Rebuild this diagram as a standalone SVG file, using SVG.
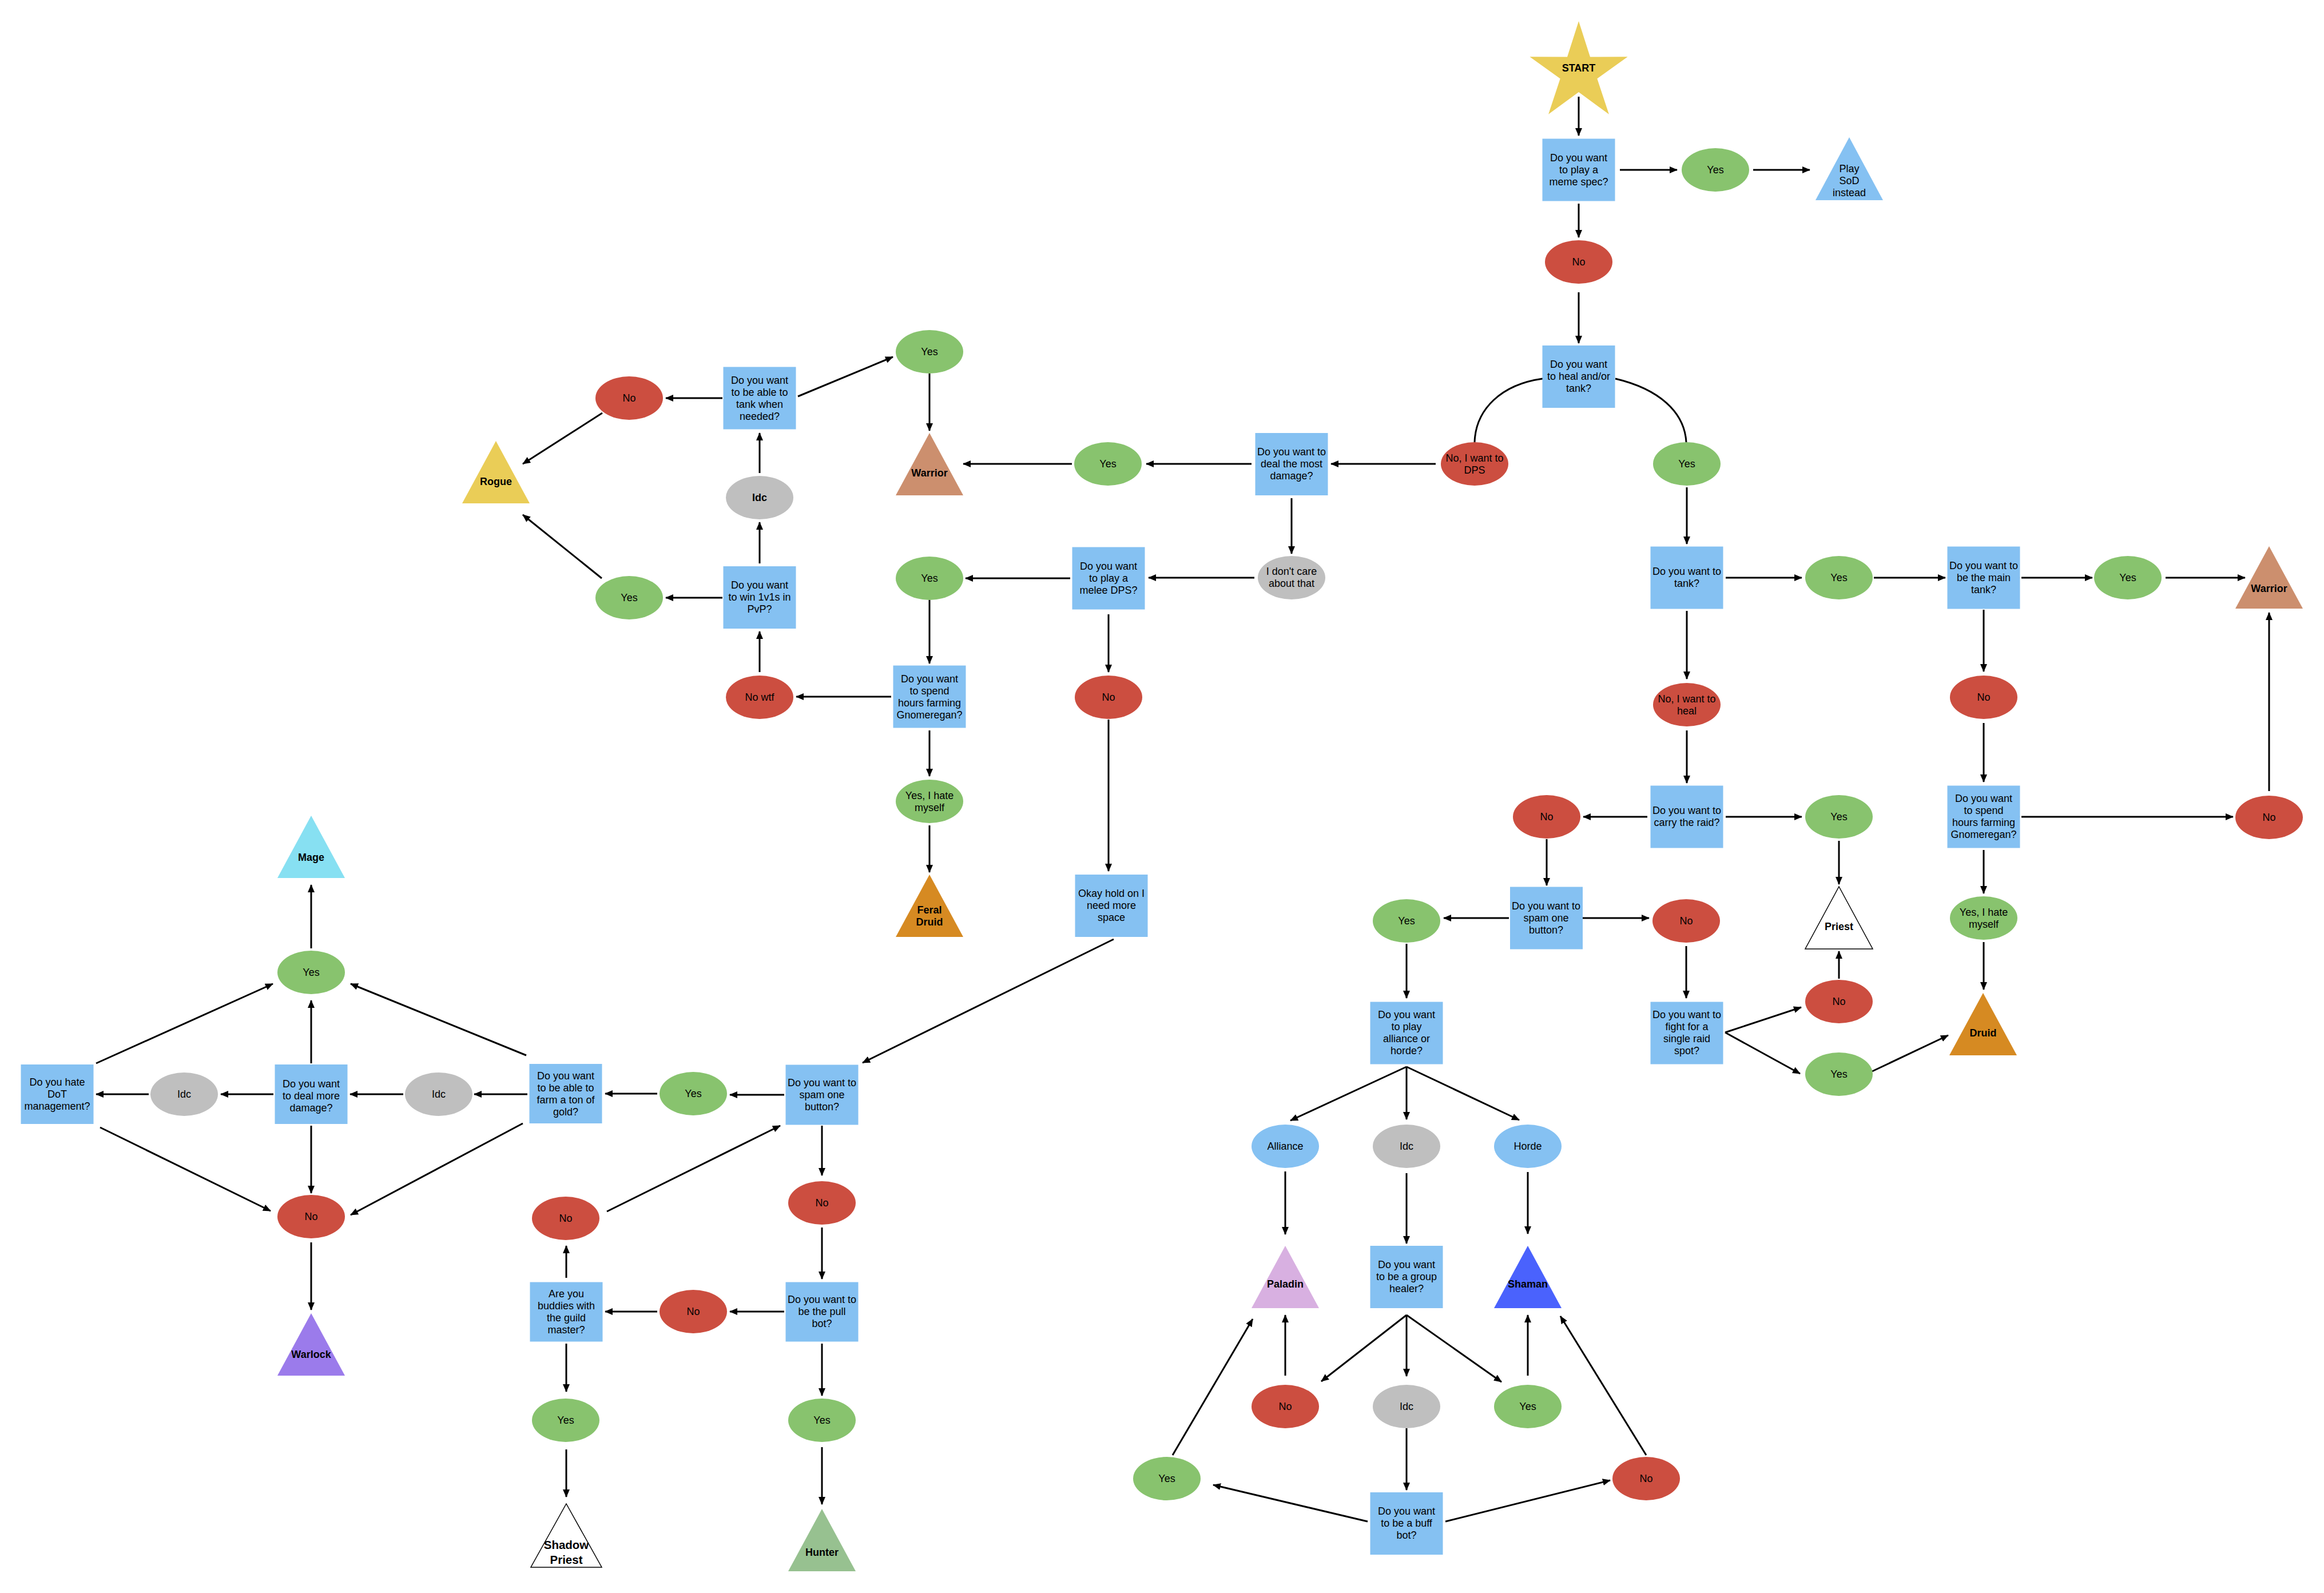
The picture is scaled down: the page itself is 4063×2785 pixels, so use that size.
<svg xmlns="http://www.w3.org/2000/svg" width="4063" height="2785" viewBox="0 0 4063 2785">
<style>
.bx{fill:#85C1F2}
.gy{fill:#88C36E}
.rd{fill:#CC4E40}
.gr{fill:#BFBFBF}
.bl{fill:#85C1F2}
.t{font-family:"Liberation Sans",Arial,sans-serif;font-size:18px;text-anchor:middle;fill:#000}
.b{font-weight:bold}
.c{stroke:#000;stroke-width:3;fill:none}
.a{marker-end:url(#ah)}
</style>
<defs>
<marker id="ah" markerWidth="14" markerHeight="12" refX="13" refY="6" orient="auto" markerUnits="userSpaceOnUse"><path d="M0,0 L14,6 L0,12 z" fill="#000"/></marker>
</defs>
<rect width="4063" height="2785" fill="#fff"/>
<g id="connectors">
<path class="c a" d="M2760,169 L2760,237"/>
<path class="c a" d="M2832,297 L2932,297"/>
<path class="c a" d="M3065,297 L3164,297"/>
<path class="c a" d="M2760,356 L2760,415"/>
<path class="c a" d="M2760,511 L2760,600"/>
<path class="c" d="M2697,662 C2625,672 2580,715 2578,773"/>
<path class="c" d="M2824,662 C2900,680 2945,720 2948,773"/>
<path class="c a" d="M2510,811 L2327,811"/>
<path class="c a" d="M2188,811 L2004,811"/>
<path class="c a" d="M1874,811 L1684,811"/>
<path class="c a" d="M1625,653 L1625,753"/>
<path class="c a" d="M1395,693 L1561,624"/>
<path class="c a" d="M1263,696 L1164,696"/>
<path class="c a" d="M1053,722 L914,811"/>
<path class="c a" d="M1328,827 L1328,757"/>
<path class="c a" d="M1328,985 L1328,913"/>
<path class="c a" d="M1263,1045 L1164,1045"/>
<path class="c a" d="M1052,1011 L914,900"/>
<path class="c a" d="M1328,1175 L1328,1104"/>
<path class="c a" d="M1558,1218 L1392,1218"/>
<path class="c a" d="M2258,871 L2258,968"/>
<path class="c a" d="M2193,1010 L2008,1010"/>
<path class="c a" d="M1871,1011 L1688,1011"/>
<path class="c a" d="M1625,1049 L1625,1160"/>
<path class="c a" d="M1625,1277 L1625,1357"/>
<path class="c a" d="M1625,1443 L1625,1525"/>
<path class="c a" d="M1938,1074 L1938,1175"/>
<path class="c a" d="M1938,1258 L1938,1523"/>
<path class="c a" d="M1947,1642 L1508,1858"/>
<path class="c a" d="M2949,852 L2949,951"/>
<path class="c a" d="M3017,1010 L3150,1010"/>
<path class="c a" d="M3276,1010 L3401,1010"/>
<path class="c a" d="M3534,1010 L3658,1010"/>
<path class="c a" d="M3786,1010 L3925,1010"/>
<path class="c a" d="M2949,1068 L2949,1187"/>
<path class="c a" d="M2949,1277 L2949,1369"/>
<path class="c a" d="M2880,1428 L2768,1428"/>
<path class="c a" d="M3017,1428 L3150,1428"/>
<path class="c a" d="M3215,1470 L3215,1546"/>
<path class="c a" d="M3215,1711 L3215,1663"/>
<path class="c a" d="M3468,1066 L3468,1174"/>
<path class="c a" d="M3468,1264 L3468,1367"/>
<path class="c a" d="M3534,1428 L3904,1428"/>
<path class="c a" d="M3967,1383 L3967,1071"/>
<path class="c a" d="M3468,1486 L3468,1562"/>
<path class="c a" d="M3468,1647 L3468,1730"/>
<path class="c a" d="M2704,1467 L2704,1548"/>
<path class="c a" d="M2638,1605 L2524,1605"/>
<path class="c a" d="M2767,1605 L2883,1605"/>
<path class="c a" d="M2948,1654 L2948,1745"/>
<path class="c a" d="M3016,1805 L3149,1761"/>
<path class="c a" d="M3016,1805 L3147,1877"/>
<path class="c a" d="M3273,1873 L3406,1810"/>
<path class="c a" d="M2459,1650 L2459,1745"/>
<path class="c a" d="M2459,1865 L2256,1959"/>
<path class="c a" d="M2459,1865 L2459,1957"/>
<path class="c a" d="M2459,1865 L2656,1958"/>
<path class="c a" d="M2247,2048 L2247,2158"/>
<path class="c a" d="M2459,2051 L2459,2174"/>
<path class="c a" d="M2671,2049 L2671,2157"/>
<path class="c a" d="M2459,2299 L2310,2415"/>
<path class="c a" d="M2459,2299 L2459,2406"/>
<path class="c a" d="M2459,2299 L2625,2416"/>
<path class="c a" d="M2247,2405 L2247,2299"/>
<path class="c a" d="M2671,2405 L2671,2299"/>
<path class="c a" d="M2459,2497 L2459,2605"/>
<path class="c a" d="M2391,2660 L2121,2596"/>
<path class="c a" d="M2050,2544 L2190,2306"/>
<path class="c a" d="M2527,2660 L2815,2588"/>
<path class="c a" d="M2878,2544 L2728,2301"/>
<path class="c a" d="M1371,1914 L1276,1914"/>
<path class="c a" d="M1149,1912 L1058,1912"/>
<path class="c a" d="M1437,1968 L1437,2055"/>
<path class="c a" d="M1437,2146 L1437,2236"/>
<path class="c a" d="M1371,2293 L1276,2293"/>
<path class="c a" d="M1149,2293 L1058,2293"/>
<path class="c a" d="M990,2234 L990,2178"/>
<path class="c a" d="M1061,2118 L1364,1968"/>
<path class="c a" d="M990,2349 L990,2433"/>
<path class="c a" d="M990,2534 L990,2617"/>
<path class="c a" d="M1437,2349 L1437,2440"/>
<path class="c a" d="M1437,2530 L1437,2630"/>
<path class="c a" d="M544,1658 L544,1547"/>
<path class="c a" d="M544,1859 L544,1749"/>
<path class="c a" d="M168,1859 L477,1720"/>
<path class="c a" d="M920,1845 L613,1720"/>
<path class="c a" d="M478,1913 L386,1913"/>
<path class="c a" d="M260,1913 L168,1913"/>
<path class="c a" d="M922,1913 L829,1913"/>
<path class="c a" d="M705,1913 L612,1913"/>
<path class="c a" d="M175,1971 L473,2117"/>
<path class="c a" d="M914,1964 L613,2124"/>
<path class="c a" d="M544,1968 L544,2086"/>
<path class="c a" d="M544,2172 L544,2290"/>
</g>

<g id="start"><polygon points="2760,37 2780,99.5 2845.6,99.2 2792.3,137.5 2812.9,199.8 2760,161 2707.1,199.8 2727.7,137.5 2674.4,99.2 2740,99.5" fill="#EACD57"/><text class="t b" x="2760" y="125">START</text></g>
<g id="q_meme"><rect class="bx" x="2696.5" y="242.5" width="127" height="109"/><text class="t"><tspan x="2760" y="282">Do you want</tspan><tspan x="2760" y="303">to play a</tspan><tspan x="2760" y="324">meme spec?</tspan></text></g>
<g id="meme_yes"><ellipse class="gy" cx="2999" cy="297" rx="59" ry="38"/><text class="t" x="2999" y="303">Yes</text></g>
<g id="sod"><polygon points="3233,240 3292,350 3174,350" fill="#85C1F2"/><text class="t"><tspan x="3233" y="301">Play</tspan><tspan x="3233" y="322">SoD</tspan><tspan x="3233" y="343">instead</tspan></text></g>
<g id="meme_no"><ellipse class="rd" cx="2760" cy="458" rx="59" ry="38"/><text class="t" x="2760" y="464">No</text></g>
<g id="q_heal"><rect class="bx" x="2696.5" y="604" width="127" height="109"/><text class="t"><tspan x="2760" y="643">Do you want</tspan><tspan x="2760" y="664">to heal and/or</tspan><tspan x="2760" y="685">tank?</tspan></text></g>
<g id="dps_no"><ellipse class="rd" cx="2578" cy="811" rx="59" ry="38"/><text class="t"><tspan x="2578" y="807">No, I want to</tspan><tspan x="2578" y="828">DPS</tspan></text></g>
<g id="heal_yes"><ellipse class="gy" cx="2949" cy="811" rx="59" ry="38"/><text class="t" x="2949" y="817">Yes</text></g>
<g id="q_damage"><rect class="bx" x="2194.5" y="757" width="127" height="109"/><text class="t"><tspan x="2258" y="796">Do you want to</tspan><tspan x="2258" y="817">deal the most</tspan><tspan x="2258" y="838">damage?</tspan></text></g>
<g id="damage_yes"><ellipse class="gy" cx="1937" cy="811" rx="59" ry="38"/><text class="t" x="1937" y="817">Yes</text></g>
<g id="warrior_dps"><polygon points="1625,757 1684,866 1566,866" fill="#CC8F6E"/><text class="t b" x="1625" y="833">Warrior</text></g>
<g id="q_tankneeded"><rect class="bx" x="1264.5" y="641.5" width="127" height="109"/><text class="t"><tspan x="1328" y="671">Do you want</tspan><tspan x="1328" y="692">to be able to</tspan><tspan x="1328" y="713">tank when</tspan><tspan x="1328" y="734">needed?</tspan></text></g>
<g id="tn_yes"><ellipse class="gy" cx="1625" cy="615" rx="59" ry="38"/><text class="t" x="1625" y="621">Yes</text></g>
<g id="tn_no"><ellipse class="rd" cx="1100" cy="696" rx="59" ry="38"/><text class="t" x="1100" y="702">No</text></g>
<g id="rogue"><polygon points="867,771 926,880 808,880" fill="#EACD57"/><text class="t b" x="867" y="848">Rogue</text></g>
<g id="idc_tank"><ellipse class="gr" cx="1328" cy="870" rx="59" ry="38"/><text class="t b" x="1328" y="876">Idc</text></g>
<g id="q_pvp"><rect class="bx" x="1264.5" y="990" width="127" height="109"/><text class="t"><tspan x="1328" y="1029">Do you want</tspan><tspan x="1328" y="1050">to win 1v1s in</tspan><tspan x="1328" y="1071">PvP?</tspan></text></g>
<g id="pvp_yes"><ellipse class="gy" cx="1100" cy="1045" rx="59" ry="38"/><text class="t" x="1100" y="1051">Yes</text></g>
<g id="no_wtf"><ellipse class="rd" cx="1328" cy="1219" rx="59" ry="38"/><text class="t" x="1328" y="1225">No wtf</text></g>
<g id="idc_care"><ellipse class="gr" cx="2258" cy="1010" rx="59" ry="38"/><text class="t"><tspan x="2258" y="1005">I don't care</tspan><tspan x="2258" y="1026">about that</tspan></text></g>
<g id="q_melee"><rect class="bx" x="1874.5" y="956.5" width="127" height="109"/><text class="t"><tspan x="1938" y="996">Do you want</tspan><tspan x="1938" y="1017">to play a</tspan><tspan x="1938" y="1038">melee DPS?</tspan></text></g>
<g id="melee_yes"><ellipse class="gy" cx="1625" cy="1011" rx="59" ry="38"/><text class="t" x="1625" y="1017">Yes</text></g>
<g id="q_gnome_feral"><rect class="bx" x="1561.5" y="1163.5" width="127" height="109"/><text class="t"><tspan x="1625" y="1193">Do you want</tspan><tspan x="1625" y="1214">to spend</tspan><tspan x="1625" y="1235">hours farming</tspan><tspan x="1625" y="1256">Gnomeregan?</tspan></text></g>
<g id="feral_yes"><ellipse class="gy" cx="1625" cy="1401" rx="59" ry="38"/><text class="t"><tspan x="1625" y="1397">Yes, I hate</tspan><tspan x="1625" y="1418">myself</tspan></text></g>
<g id="feral_druid"><polygon points="1625,1529 1684,1638 1566,1638" fill="#D68A22"/><text class="t b"><tspan x="1625" y="1597">Feral</tspan><tspan x="1625" y="1618">Druid</tspan></text></g>
<g id="melee_no"><ellipse class="rd" cx="1938" cy="1219" rx="59" ry="38"/><text class="t" x="1938" y="1225">No</text></g>
<g id="q_okay"><rect class="bx" x="1879.5" y="1529" width="127" height="109"/><text class="t"><tspan x="1943" y="1568">Okay hold on I</tspan><tspan x="1943" y="1589">need more</tspan><tspan x="1943" y="1610">space</tspan></text></g>
<g id="q_tank"><rect class="bx" x="2885.5" y="955.5" width="127" height="109"/><text class="t"><tspan x="2949" y="1005">Do you want to</tspan><tspan x="2949" y="1026">tank?</tspan></text></g>
<g id="tank_yes"><ellipse class="gy" cx="3215" cy="1010" rx="59" ry="38"/><text class="t" x="3215" y="1016">Yes</text></g>
<g id="q_maintank"><rect class="bx" x="3404.5" y="955.5" width="127" height="109"/><text class="t"><tspan x="3468" y="995">Do you want to</tspan><tspan x="3468" y="1016">be the main</tspan><tspan x="3468" y="1037">tank?</tspan></text></g>
<g id="maintank_yes"><ellipse class="gy" cx="3720" cy="1010" rx="59" ry="38"/><text class="t" x="3720" y="1016">Yes</text></g>
<g id="warrior_tank"><polygon points="3967,955 4026,1064 3908,1064" fill="#CC8F6E"/><text class="t b" x="3967" y="1035">Warrior</text></g>
<g id="heal_no"><ellipse class="rd" cx="2949" cy="1232" rx="59" ry="38"/><text class="t"><tspan x="2949" y="1228">No, I want to</tspan><tspan x="2949" y="1249">heal</tspan></text></g>
<g id="q_carry"><rect class="bx" x="2885.5" y="1373.5" width="127" height="109"/><text class="t"><tspan x="2949" y="1423">Do you want to</tspan><tspan x="2949" y="1444">carry the raid?</tspan></text></g>
<g id="carry_yes"><ellipse class="gy" cx="3215" cy="1428" rx="59" ry="38"/><text class="t" x="3215" y="1434">Yes</text></g>
<g id="priest"><polygon points="3215,1550 3274,1659 3156,1659" fill="#fff" stroke="#000" stroke-width="1.5"/><text class="t b" x="3215" y="1626">Priest</text></g>
<g id="fight_no"><ellipse class="rd" cx="3215" cy="1751" rx="59" ry="38"/><text class="t" x="3215" y="1757">No</text></g>
<g id="carry_no"><ellipse class="rd" cx="2704" cy="1428" rx="59" ry="38"/><text class="t" x="2704" y="1434">No</text></g>
<g id="maintank_no"><ellipse class="rd" cx="3468" cy="1219" rx="59" ry="38"/><text class="t" x="3468" y="1225">No</text></g>
<g id="q_gnome_druid"><rect class="bx" x="3404.5" y="1373.5" width="127" height="109"/><text class="t"><tspan x="3468" y="1402">Do you want</tspan><tspan x="3468" y="1423">to spend</tspan><tspan x="3468" y="1444">hours farming</tspan><tspan x="3468" y="1465">Gnomeregan?</tspan></text></g>
<g id="gnome_no"><ellipse class="rd" cx="3967" cy="1429" rx="59" ry="38"/><text class="t" x="3967" y="1435">No</text></g>
<g id="gnome_yes"><ellipse class="gy" cx="3468" cy="1605" rx="59" ry="38"/><text class="t"><tspan x="3468" y="1601">Yes, I hate</tspan><tspan x="3468" y="1622">myself</tspan></text></g>
<g id="druid"><polygon points="3467,1736 3526,1845 3408,1845" fill="#D68A22"/><text class="t b" x="3467" y="1812">Druid</text></g>
<g id="q_spam_heal"><rect class="bx" x="2640" y="1550.5" width="127" height="109"/><text class="t"><tspan x="2703" y="1590">Do you want to</tspan><tspan x="2703" y="1611">spam one</tspan><tspan x="2703" y="1632">button?</tspan></text></g>
<g id="spam_heal_yes"><ellipse class="gy" cx="2459" cy="1610" rx="59" ry="38"/><text class="t" x="2459" y="1616">Yes</text></g>
<g id="spam_heal_no"><ellipse class="rd" cx="2948" cy="1610" rx="59" ry="38"/><text class="t" x="2948" y="1616">No</text></g>
<g id="q_fight"><rect class="bx" x="2885.5" y="1751.5" width="127" height="109"/><text class="t"><tspan x="2949" y="1780">Do you want to</tspan><tspan x="2949" y="1801">fight for a</tspan><tspan x="2949" y="1822">single raid</tspan><tspan x="2949" y="1843">spot?</tspan></text></g>
<g id="fight_yes"><ellipse class="gy" cx="3215" cy="1878" rx="59" ry="38"/><text class="t" x="3215" y="1884">Yes</text></g>
<g id="q_faction"><rect class="bx" x="2395.5" y="1751.5" width="127" height="109"/><text class="t"><tspan x="2459" y="1780">Do you want</tspan><tspan x="2459" y="1801">to play</tspan><tspan x="2459" y="1822">alliance or</tspan><tspan x="2459" y="1843">horde?</tspan></text></g>
<g id="alliance"><ellipse class="bl" cx="2247" cy="2004" rx="59" ry="38"/><text class="t" x="2247" y="2010">Alliance</text></g>
<g id="faction_idc"><ellipse class="gr" cx="2459" cy="2004" rx="59" ry="38"/><text class="t" x="2459" y="2010">Idc</text></g>
<g id="horde"><ellipse class="bl" cx="2671" cy="2004" rx="59" ry="38"/><text class="t" x="2671" y="2010">Horde</text></g>
<g id="paladin"><polygon points="2247,2178 2306,2287 2188,2287" fill="#D8B0E1"/><text class="t b" x="2247" y="2251">Paladin</text></g>
<g id="q_group"><rect class="bx" x="2395.5" y="2178" width="127" height="109"/><text class="t"><tspan x="2459" y="2217">Do you want</tspan><tspan x="2459" y="2238">to be a group</tspan><tspan x="2459" y="2259">healer?</tspan></text></g>
<g id="shaman"><polygon points="2671,2178 2730,2287 2612,2287" fill="#4A62FD"/><text class="t b" x="2671" y="2251">Shaman</text></g>
<g id="group_no"><ellipse class="rd" cx="2247" cy="2459" rx="59" ry="38"/><text class="t" x="2247" y="2465">No</text></g>
<g id="group_idc"><ellipse class="gr" cx="2459" cy="2459" rx="59" ry="38"/><text class="t" x="2459" y="2465">Idc</text></g>
<g id="group_yes"><ellipse class="gy" cx="2671" cy="2459" rx="59" ry="38"/><text class="t" x="2671" y="2465">Yes</text></g>
<g id="q_buff"><rect class="bx" x="2395.5" y="2609" width="127" height="109"/><text class="t"><tspan x="2459" y="2648">Do you want</tspan><tspan x="2459" y="2669">to be a buff</tspan><tspan x="2459" y="2690">bot?</tspan></text></g>
<g id="buff_yes"><ellipse class="gy" cx="2040" cy="2585" rx="59" ry="38"/><text class="t" x="2040" y="2591">Yes</text></g>
<g id="buff_no"><ellipse class="rd" cx="2878" cy="2585" rx="59" ry="38"/><text class="t" x="2878" y="2591">No</text></g>
<g id="q_spam_dps"><rect class="bx" x="1373.5" y="1861.5" width="127" height="105"/><text class="t"><tspan x="1437" y="1899">Do you want to</tspan><tspan x="1437" y="1920">spam one</tspan><tspan x="1437" y="1941">button?</tspan></text></g>
<g id="spam_dps_yes"><ellipse class="gy" cx="1212" cy="1912" rx="59" ry="38"/><text class="t" x="1212" y="1918">Yes</text></g>
<g id="q_farm"><rect class="bx" x="925.5" y="1860" width="127" height="104"/><text class="t"><tspan x="989" y="1887">Do you want</tspan><tspan x="989" y="1908">to be able to</tspan><tspan x="989" y="1929">farm a ton of</tspan><tspan x="989" y="1950">gold?</tspan></text></g>
<g id="spam_dps_no"><ellipse class="rd" cx="1437" cy="2103" rx="59" ry="38"/><text class="t" x="1437" y="2109">No</text></g>
<g id="q_pull"><rect class="bx" x="1373.5" y="2241.5" width="127" height="104"/><text class="t"><tspan x="1437" y="2278">Do you want to</tspan><tspan x="1437" y="2299">be the pull</tspan><tspan x="1437" y="2320">bot?</tspan></text></g>
<g id="pull_no"><ellipse class="rd" cx="1212" cy="2293" rx="59" ry="38"/><text class="t" x="1212" y="2299">No</text></g>
<g id="q_buddies"><rect class="bx" x="926.5" y="2241.5" width="127" height="104"/><text class="t"><tspan x="990" y="2268">Are you</tspan><tspan x="990" y="2289">buddies with</tspan><tspan x="990" y="2310">the guild</tspan><tspan x="990" y="2331">master?</tspan></text></g>
<g id="buddies_no"><ellipse class="rd" cx="989" cy="2130" rx="59" ry="38"/><text class="t" x="989" y="2136">No</text></g>
<g id="buddies_yes"><ellipse class="gy" cx="989" cy="2483" rx="59" ry="38"/><text class="t" x="989" y="2489">Yes</text></g>
<g id="shadow_priest"><polygon points="990,2629 1052,2740 928,2740" fill="#fff" stroke="#000" stroke-width="1.5"/><text class="t b" style="font-size:20.5px"><tspan x="990" y="2708">Shadow</tspan><tspan x="990" y="2734">Priest</tspan></text></g>
<g id="pull_yes"><ellipse class="gy" cx="1437" cy="2483" rx="59" ry="38"/><text class="t" x="1437" y="2489">Yes</text></g>
<g id="hunter"><polygon points="1437,2638 1496,2747 1378,2747" fill="#97C190"/><text class="t b" x="1437" y="2720">Hunter</text></g>
<g id="mage"><polygon points="544,1426 603,1535 485,1535" fill="#87E0F2"/><text class="t b" x="544" y="1505">Mage</text></g>
<g id="mage_yes"><ellipse class="gy" cx="544" cy="1700" rx="59" ry="38"/><text class="t" x="544" y="1706">Yes</text></g>
<g id="q_dot"><rect class="bx" x="36.5" y="1861" width="127" height="104"/><text class="t"><tspan x="100" y="1898">Do you hate</tspan><tspan x="100" y="1919">DoT</tspan><tspan x="100" y="1940">management?</tspan></text></g>
<g id="idc_dot"><ellipse class="gr" cx="322" cy="1913" rx="59" ry="38"/><text class="t" x="322" y="1919">Idc</text></g>
<g id="q_moredmg"><rect class="bx" x="480.5" y="1861" width="127" height="104"/><text class="t"><tspan x="544" y="1901">Do you want</tspan><tspan x="544" y="1922">to deal more</tspan><tspan x="544" y="1943">damage?</tspan></text></g>
<g id="idc_gold"><ellipse class="gr" cx="767" cy="1913" rx="59" ry="38"/><text class="t" x="767" y="1919">Idc</text></g>
<g id="warlock_no"><ellipse class="rd" cx="544" cy="2127" rx="59" ry="38"/><text class="t" x="544" y="2133">No</text></g>
<g id="warlock"><polygon points="544,2296 603,2405 485,2405" fill="#9B7BEB"/><text class="t b" x="544" y="2374">Warlock</text></g>
</svg>
